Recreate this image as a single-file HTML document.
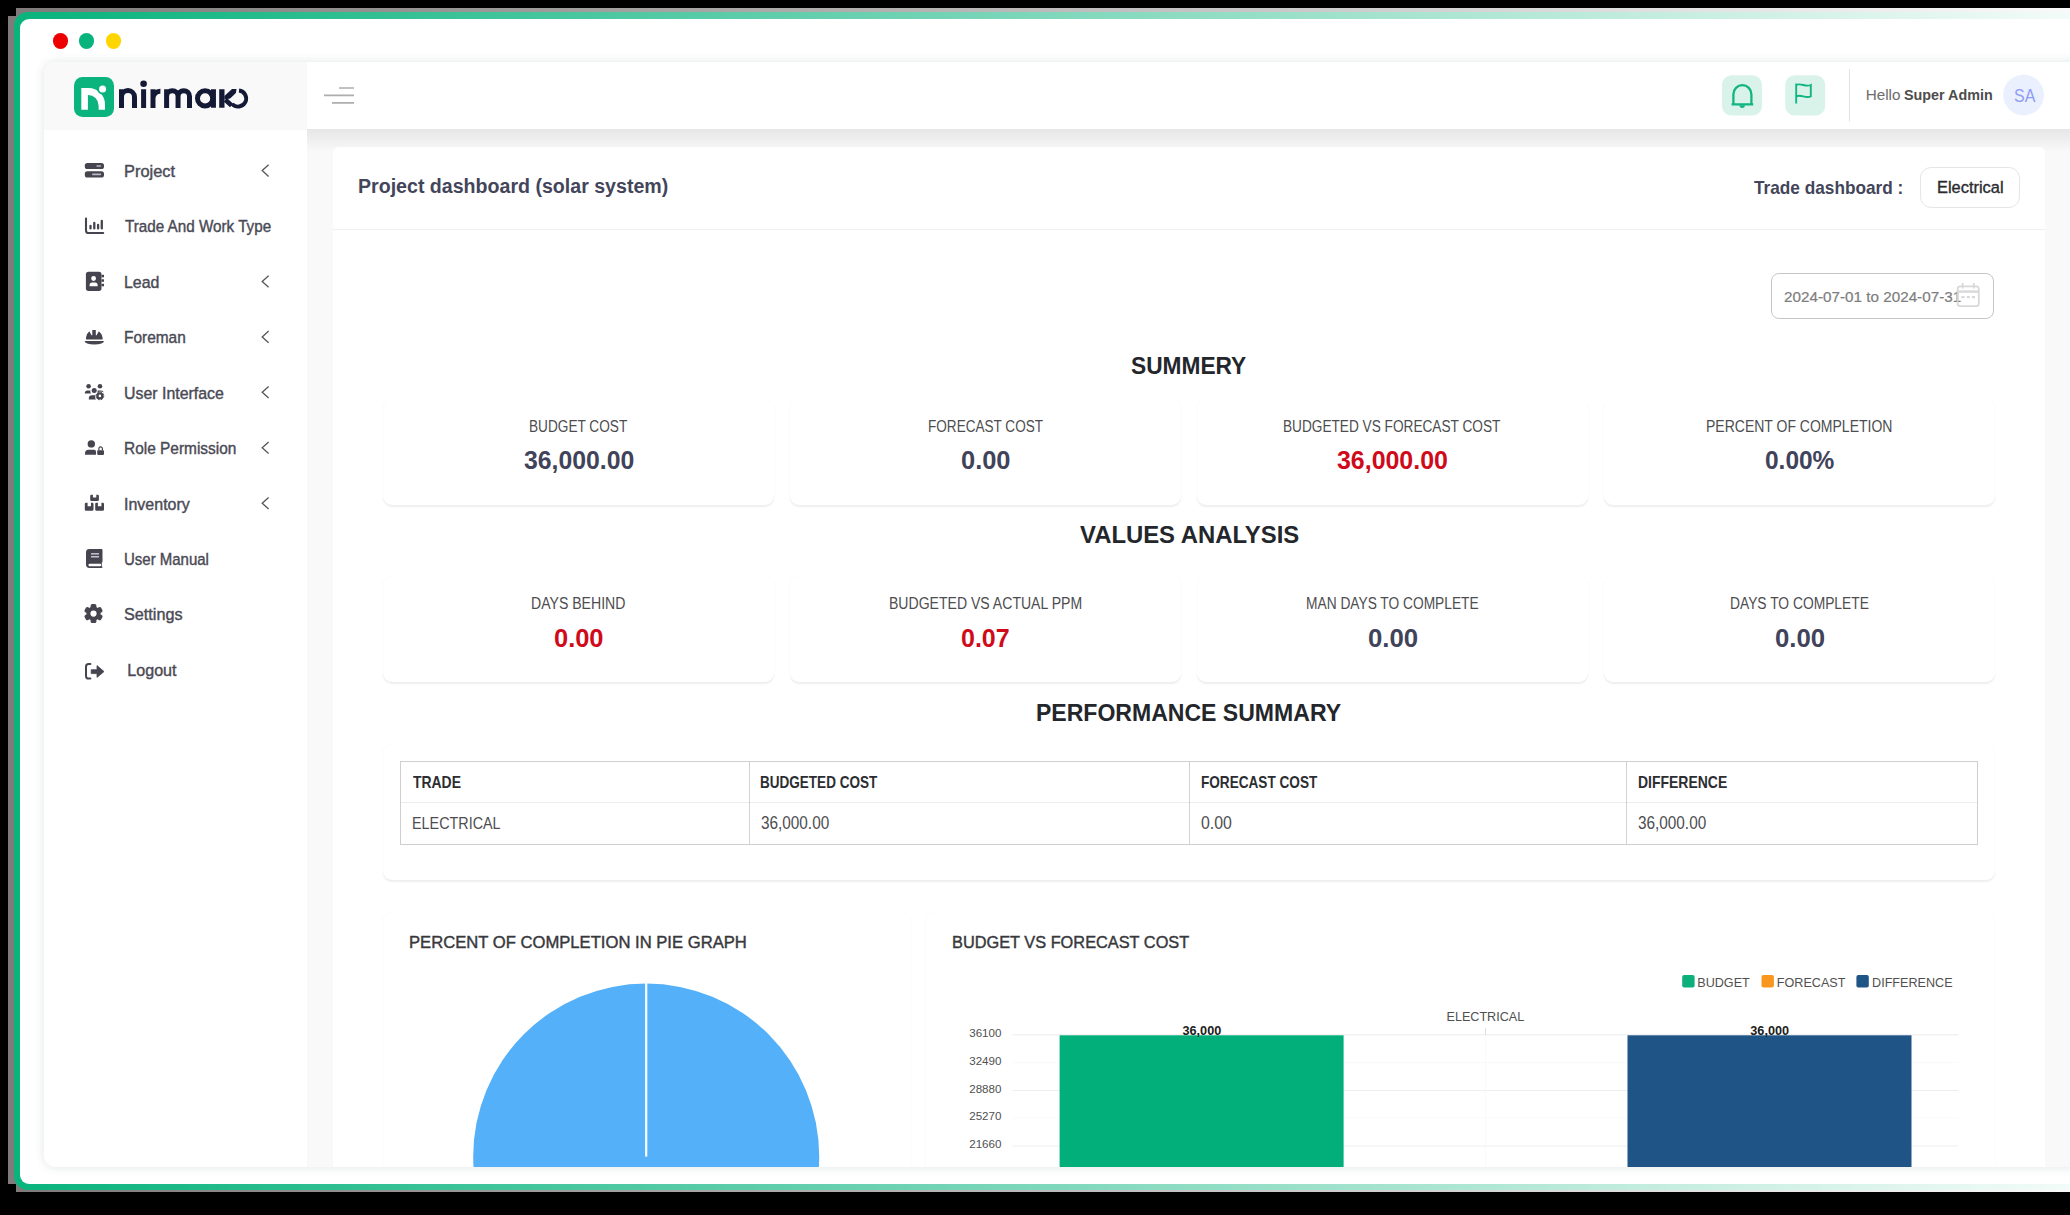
<!DOCTYPE html>
<html lang="en"><head><meta charset="utf-8"><title>Nirmako - Project dashboard</title>
<style>
html,body{margin:0;padding:0}
html{width:2070px;height:1215px;overflow:hidden}
body{width:2070px;height:1215px;background:#000;position:relative;overflow:hidden;font-family:"Liberation Sans",sans-serif}
#stage{position:absolute;left:0;top:0;width:2070px;height:1215px;overflow:hidden;background:#000}
.b{position:absolute;box-sizing:border-box}
.t{position:absolute;white-space:nowrap;line-height:1;transform-origin:0 0;display:block}
svg{position:absolute;overflow:visible}
.card{position:absolute;box-sizing:border-box;background:#fff;border-radius:9px;box-shadow:0 1.5px 2px rgba(0,0,0,.07),0 0 1.5px rgba(0,0,0,.02)}
</style></head><body>
<div id="stage">
<div class="b" style="left:16px;top:8px;width:2054.00px;height:1184.00px;background:linear-gradient(to right,#7f7b7b 0,#fff 2150px)"></div>
<div class="b" style="left:8px;top:16px;width:2062.00px;height:1168.00px;background:linear-gradient(to right,#7f7b7b 0,#fff 2158px)"></div>
<div class="b" style="left:14px;top:12px;width:2086.00px;height:1178.20px;background:linear-gradient(to right,#09b37c 0,#fff 2166px);border-radius:14px"></div>
<div class="b" style="left:19.5px;top:18.5px;width:2080.50px;height:1165.70px;background:#fff;border-radius:9px"></div>
<div class="b" style="left:52.699999999999996px;top:33.4px;width:15.20px;height:15.20px;background:#ec0000;border-radius:50%"></div>
<div class="b" style="left:79.0px;top:33.4px;width:15.20px;height:15.20px;background:#09b37c;border-radius:50%"></div>
<div class="b" style="left:105.80000000000001px;top:33.4px;width:15.20px;height:15.20px;background:#ffd500;border-radius:50%"></div>
<div class="b" style="left:44px;top:62px;width:2060px;height:1104.5px;border-radius:12px 0 0 12px;overflow:hidden;background:#f9f9f9;box-shadow:0 0 10px 1px rgba(20,70,55,.11)"><div class="b" style="left:-44px;top:-62px;width:2070px;height:1215px">
<div class="b" style="left:44px;top:62px;width:263.30px;height:1105.00px;background:#fff"></div>
<div class="b" style="left:44px;top:62px;width:263.30px;height:68.00px;background:#f9f9f9"></div>
<div class="b" style="left:307.3px;top:129px;width:1762.70px;height:23.00px;background:linear-gradient(#e6e6e6,#f9f9f9)"></div>
<div class="b" style="left:307.3px;top:62px;width:1762.70px;height:67.00px;background:#fff"></div>
<div class="b" style="left:332.7px;top:146.5px;width:1712.20px;height:1153.50px;background:#fff;border-radius:6px"></div>
<div class="b" style="left:332.7px;top:229px;width:1712.20px;height:1.00px;background:#f0f0f0"></div>
<svg style="left:0;top:0" width="2070" height="1215" viewBox="0 0 2070 1215">
<rect x="74" y="77" width="40" height="40" rx="8.5" fill="#0bb37d"/>
<path d="M81.3 88 H88.6 A16.4 16.4 0 0 1 105 104.4 V109.8 H98.6 V105.4 A10.5 10.5 0 0 0 88.1 94.9 H87.9 V109.8 H81.3 Z" fill="#fff"/>
<circle cx="102.6" cy="88.9" r="5.6" fill="#0bb37d"/>
<circle cx="102.6" cy="88.9" r="3.5" fill="#fff"/>
<g fill="none" stroke="#141a35" stroke-width="5" stroke-linejoin="round">
<path d="M121.5 107.9 V89.3 M121.5 97.1 A6.5 6.5 0 0 1 134.5 97.1 V107.9"/>
<path d="M143.6 107.9 V89.3"/>
<path d="M153 107.9 V89.3 M153 98.2 A7.2 7.2 0 0 1 160.4 91.2"/>
<path d="M166.6 107.9 V89.3 M166.6 96.4 A5.72 5.72 0 0 1 178.05 96.4 V107.9 M178.05 96.4 A5.72 5.72 0 0 1 189.5 96.4 V107.9"/>
<circle cx="205.1" cy="98.4" r="7.6"/>
<path d="M213.45 89.2 V107.8"/>
<path d="M221.85 89.2 V107.8" stroke-width="5.3"/>
<path d="M225.3 99.7 L231.6 105.5" stroke-width="4.7"/>
<path d="M239.0 90.55 A8.05 8.05 0 1 1 232.2 104.0" stroke-width="3.9"/>
</g>
<path d="M224.4 95.9 L232.0 89.1 H236.5 L235.9 92.9 L230.1 98.6 L224.4 99.5 Z" fill="#141a35"/>
<circle cx="143.6" cy="83.7" r="3.3" fill="#141a35"/>
<!-- hamburger -->
<g stroke="#adadad" stroke-width="1.7">
<path d="M339 88 H354 M324 95.4 H354 M332 102.8 H354"/>
</g>
<!-- bell / flag buttons -->
<rect x="1722" y="75.2" width="40" height="40.3" rx="9.5" fill="#d9f3ea"/>
<rect x="1785.2" y="75.2" width="40" height="40.3" rx="9.5" fill="#d9f3ea"/>
<g fill="none" stroke="#11b581" stroke-width="2.3">
<path d="M1733.4 104.2 V94.2 A9 9 0 0 1 1751.4 94.2 V104.2 M1731.6 104.3 H1753.2"/>
<path d="M1796.2 83.6 V103.6 M1796.2 85 C1801 82.6 1805.5 87.4 1810.8 85 V96.4 C1805.5 98.8 1801 94 1796.2 96.4" stroke-width="1.9"/>
</g>
<path d="M1739.5 105.2 A2.7 2.7 0 0 0 1744.9 105.2 Z" fill="#11b581"/>
<path d="M1849.5 69 V121.5" stroke="#e2e2e2" stroke-width="1"/>
<circle cx="2023.6" cy="95" r="20.4" fill="#eaf0fd"/>
</svg>
<span class="t" style="left:1865.65px;top:87.00px;font-size:15.26px;color:#6c6c6c;">Hello</span>
<span class="t" style="left:1903.89px;top:87.00px;font-size:15.26px;color:#4c4c4c;transform:scaleX(0.9408);font-weight:700;">Super Admin</span>
<span class="t" style="left:2013.62px;top:87.00px;font-size:18.90px;color:#8f9cf4;transform:scaleX(0.8471);">SA</span>
<span class="t" style="left:124.05px;top:163.00px;font-size:16.13px;color:#4a4a55;transform:scaleX(1.0172);-webkit-text-stroke:0.4px #4a4a55;">Project</span>
<span class="t" style="left:125.06px;top:218.00px;font-size:16.13px;color:#4a4a55;transform:scaleX(0.9452);-webkit-text-stroke:0.4px #4a4a55;">Trade And Work Type</span>
<span class="t" style="left:124.09px;top:274.00px;font-size:16.13px;color:#4a4a55;transform:scaleX(0.9875);-webkit-text-stroke:0.4px #4a4a55;">Lead</span>
<span class="t" style="left:124.13px;top:329.00px;font-size:16.13px;color:#4a4a55;transform:scaleX(0.9586);-webkit-text-stroke:0.4px #4a4a55;">Foreman</span>
<span class="t" style="left:124.17px;top:385.00px;font-size:16.13px;color:#4a4a55;transform:scaleX(0.9875);-webkit-text-stroke:0.4px #4a4a55;">User Interface</span>
<span class="t" style="left:124.13px;top:440.00px;font-size:16.13px;color:#4a4a55;transform:scaleX(0.9578);-webkit-text-stroke:0.4px #4a4a55;">Role Permission</span>
<span class="t" style="left:123.92px;top:496.00px;font-size:16.13px;color:#4a4a55;transform:scaleX(0.9934);-webkit-text-stroke:0.4px #4a4a55;">Inventory</span>
<span class="t" style="left:124.24px;top:551.00px;font-size:16.13px;color:#4a4a55;transform:scaleX(0.9302);-webkit-text-stroke:0.4px #4a4a55;">User Manual</span>
<span class="t" style="left:124.36px;top:606.00px;font-size:16.13px;color:#4a4a55;transform:scaleX(1.0058);-webkit-text-stroke:0.4px #4a4a55;">Settings</span>
<span class="t" style="left:127.27px;top:662.00px;font-size:16.13px;color:#4a4a55;-webkit-text-stroke:0.4px #4a4a55;">Logout</span>
<svg style="left:0;top:0" width="2070" height="1215" viewBox="0 0 2070 1215">
<g fill="none" stroke="#55555c" stroke-width="1.3"><path d="M268.6 164.8 L262.2 170.6 L268.6 176.4"/><path d="M268.6 275.7 L262.2 281.5 L268.6 287.3"/><path d="M268.6 331.1 L262.2 336.9 L268.6 342.7"/><path d="M268.6 386.5 L262.2 392.3 L268.6 398.1"/><path d="M268.6 441.9 L262.2 447.8 L268.6 453.5"/><path d="M268.6 497.4 L262.2 503.2 L268.6 509.0"/></g>
<g fill="#46454f">
<!-- project -->
<rect x="84.8" y="163" width="19.2" height="6" rx="2.6"/><rect x="84.8" y="171.2" width="19.2" height="6.3" rx="2.6"/>
<rect x="96.3" y="165.2" width="4.9" height="1.6" rx=".8" fill="#b9b8c6"/><rect x="92" y="173.6" width="9.2" height="1.6" rx=".8" fill="#b9b8c6"/>
<!-- trade -->
<path d="M86 218.6 V230.4 Q86 233 88.6 233 H103.2" fill="none" stroke="#46454f" stroke-width="2.1" stroke-linecap="round"/>
<g fill="none" stroke="#46454f" stroke-width="2.3" stroke-linecap="round"><path d="M90.5 225.8 V228.4 M94.3 223 V228.4 M98.1 225 V228.4 M101.8 220.9 V228.4"/></g>
<!-- lead -->
<rect x="85.9" y="271.8" width="15.6" height="19.1" rx="2.6"/>
<rect x="101.5" y="274.8" width="2.5" height="2.5"/><rect x="101.5" y="279.3" width="2.5" height="2.5"/><rect x="101.5" y="283.8" width="2.5" height="2.5"/>
<circle cx="93.6" cy="278.5" r="2.4" fill="#fff"/><path d="M89.6 286.2 V285 Q89.6 282.4 92.2 282.4 H95 Q97.6 282.4 97.6 285 V286.2 Z" fill="#fff"/>
<!-- foreman -->
<path d="M86 339.6 V337.5 Q86.6 333.4 89.4 331.3 L91.5 335.2 L92.3 335.2 V330 H95.8 V335.2 L96.6 335.2 L98.8 331.3 Q101.8 333.4 102.6 337.5 V339.6 Z"/>
<path d="M84.6 341 H104 Q103.6 344.4 94.3 344.4 Q85 344.4 84.6 341 Z"/>
<!-- user interface -->
<circle cx="88.6" cy="386.3" r="2.3"/><circle cx="100" cy="386.3" r="2.3"/><circle cx="94.2" cy="390.5" r="2.5"/>
<path d="M84.8 393.4 Q84.8 390.4 87.4 390.4 H90.4 Q90 392 91 393.4 Z"/>
<path d="M97.6 390.6 Q98 390.4 99 390.4 H101 Q103.4 390.4 103.7 392.4 Q101 390.6 97.6 392.4 Z"/>
<path d="M88.8 399.5 V398.4 Q88.8 395.2 92 395.2 H95.4 Q94.6 397.6 96 399.5 Z"/>
<circle cx="99.9" cy="395.9" r="3.7"/><circle cx="99.9" cy="395.9" r="3.9" fill="none" stroke="#46454f" stroke-width="0.9" stroke-dasharray="1.7 1.36"/><circle cx="99.9" cy="395.9" r="1.3" fill="#fff"/>
<!-- role permission -->
<circle cx="91.3" cy="443.9" r="3.7"/>
<path d="M85 454.8 V453.4 Q85 449.8 88.6 449.8 H94 Q96 449.8 96 451.4 V454.8 Z"/>
<rect x="97.2" y="450.2" width="6.8" height="4.7" rx=".8"/><path d="M98.9 450.4 V448.6 A1.75 1.75 0 0 1 102.4 448.6 V450.4" fill="none" stroke="#46454f" stroke-width="1.2"/>
<!-- inventory -->
<path d="M91.4 494.8 H92.9 V497.6 H96.3 V494.8 H97.7 Q98.9 494.8 98.9 496 V499.8 Q98.9 501 97.7 501 H91.4 Q90.2 501 90.2 499.8 V496 Q90.2 494.8 91.4 494.8 Z"/>
<path d="M84.8 504.1 Q84.8 502.8 86.1 502.8 H87.6 V506.3 H91 V502.8 H92.2 Q93.5 502.8 93.5 504.1 V509.5 Q93.5 510.8 92.2 510.8 H86.1 Q84.8 510.8 84.8 509.5 Z"/>
<path d="M96.5 502.8 H97.9 V506.3 H101.4 V502.8 H102.7 Q104 502.8 104 504.1 V509.5 Q104 510.8 102.7 510.8 H96.5 Q95.2 510.8 95.2 509.5 V504.1 Q95.2 502.8 96.5 502.8 Z"/>
<!-- user manual -->
<path d="M89.4 549 H101.5 Q102.5 549 102.5 550 V561.6 Q102.5 562.4 101.8 562.6 V566.4 Q102.5 566.6 102.5 567.2 Q102.5 567.9 101.6 567.9 H89.4 Q86 567.9 86 564.5 V552.4 Q86 549 89.4 549 Z"/>
<rect x="88.5" y="563.7" width="12.6" height="2.5" rx="1" fill="#fff"/>
<rect x="91" y="553.1" width="8" height="1.5" fill="#c6c5cf"/><rect x="91" y="556" width="8" height="1.5" fill="#c6c5cf"/>
<!-- settings -->
<g transform="translate(93.5 613.6)"><circle r="7"/>
<g><rect x="-2.9" y="-9.5" width="5.8" height="5.5" rx="1.7" transform="rotate(0)"/><rect x="-2.9" y="-9.5" width="5.8" height="5.5" rx="1.7" transform="rotate(60)"/><rect x="-2.9" y="-9.5" width="5.8" height="5.5" rx="1.7" transform="rotate(120)"/><rect x="-2.9" y="-9.5" width="5.8" height="5.5" rx="1.7" transform="rotate(180)"/><rect x="-2.9" y="-9.5" width="5.8" height="5.5" rx="1.7" transform="rotate(240)"/><rect x="-2.9" y="-9.5" width="5.8" height="5.5" rx="1.7" transform="rotate(300)"/></g>
<circle r="3.1" fill="#fff"/></g>
<!-- logout -->
<path d="M90.4 664.1 H88.6 Q86 664.1 86 666.7 V675.9 Q86 678.5 88.6 678.5 H90.4" fill="none" stroke="#46454f" stroke-width="2" stroke-linecap="round"/>
<path d="M91.2 669.7 H97 V665.6 L104 671.6 L97 677.4 V673.6 H91.2 Z" stroke="#46454f" stroke-width=".8" stroke-linejoin="round"/>
</g></svg>
<span class="t" style="left:358.19px;top:176.00px;font-size:20.93px;color:#43455a;transform:scaleX(0.9363);font-weight:700;">Project dashboard (solar system)</span>
<span class="t" style="left:1753.61px;top:180.00px;font-size:17.88px;color:#43455a;transform:scaleX(0.9643);font-weight:700;">Trade dashboard :</span>
<div class="b" style="left:1920px;top:167px;width:99.60px;height:40.60px;border:1px solid #e6e6e6;border-radius:11px;background:#fff"></div>
<span class="t" style="left:1936.73px;top:180.00px;font-size:16.64px;color:#2a2a2e;transform:scaleX(0.9866);-webkit-text-stroke:0.35px #2a2a2e;">Electrical</span>
<div class="b" style="left:1771px;top:273px;width:223.20px;height:45.60px;border:1px solid #c6c6c6;border-radius:8px;background:#fff"></div>
<span class="t" style="left:1783.83px;top:290.00px;font-size:14.83px;color:#7d7d7d;transform:scaleX(1.0283);-webkit-text-stroke:0.2px #7d7d7d;">2024-07-01 to 2024-07-31</span>
<svg style="left:0;top:0" width="2070" height="1215" viewBox="0 0 2070 1215"><g fill="none" stroke="#d6d6d6" stroke-width="1.8" opacity=".93">
<rect x="1957.6" y="286.4" width="21.2" height="19.8" rx="2.6"/><path d="M1957.6 291.6 H1978.8" stroke-width="2.4"/><path d="M1962.6 283 V288.4 M1973.8 283 V288.4"/>
<path d="M1961.5 297.2 H1964.5 M1966.8 297.2 H1969.8 M1972 297.2 H1975" stroke-width="2.2"/></g></svg>
<span class="t" style="left:1130.95px;top:354.00px;font-size:24.42px;color:#23262b;transform:scaleX(0.9307);font-weight:700;">SUMMERY</span>
<span class="t" style="left:1079.84px;top:523.00px;font-size:24.42px;color:#23262b;transform:scaleX(0.9779);font-weight:700;">VALUES ANALYSIS</span>
<span class="t" style="left:1035.56px;top:701.00px;font-size:24.42px;color:#23262b;transform:scaleX(0.9439);font-weight:700;">PERFORMANCE SUMMARY</span>
<div class="card" style="left:383px;top:398.5px;width:391px;height:106px"></div>
<div class="card" style="left:383px;top:576px;width:391px;height:105.5px"></div>
<span class="t" style="left:529.08px;top:418.00px;font-size:16.42px;color:#4d4d4f;transform:scaleX(0.8312);">BUDGET COST</span>
<span class="t" style="left:523.73px;top:447.00px;font-size:26.45px;color:#41435a;transform:scaleX(0.9373);font-weight:700;">36,000.00</span>
<span class="t" style="left:531.14px;top:595.00px;font-size:16.42px;color:#4d4d4f;transform:scaleX(0.8586);">DAYS BEHIND</span>
<span class="t" style="left:553.89px;top:625.00px;font-size:26.45px;color:#cf0a1b;transform:scaleX(0.9625);font-weight:700;">0.00</span>
<div class="card" style="left:790px;top:398.5px;width:391px;height:106px"></div>
<div class="card" style="left:790px;top:576px;width:391px;height:105.5px"></div>
<span class="t" style="left:927.69px;top:418.00px;font-size:16.42px;color:#4d4d4f;transform:scaleX(0.8266);">FORECAST COST</span>
<span class="t" style="left:960.89px;top:447.00px;font-size:26.45px;color:#41435a;transform:scaleX(0.9625);font-weight:700;">0.00</span>
<span class="t" style="left:889.00px;top:595.00px;font-size:16.42px;color:#4d4d4f;transform:scaleX(0.8566);">BUDGETED VS ACTUAL PPM</span>
<span class="t" style="left:961.36px;top:625.00px;font-size:26.45px;color:#cf0a1b;transform:scaleX(0.9458);font-weight:700;">0.07</span>
<div class="card" style="left:1197px;top:398.5px;width:391px;height:106px"></div>
<div class="card" style="left:1197px;top:576px;width:391px;height:105.5px"></div>
<span class="t" style="left:1283.48px;top:418.00px;font-size:16.42px;color:#4d4d4f;transform:scaleX(0.8317);">BUDGETED VS FORECAST COST</span>
<span class="t" style="left:1337.43px;top:447.00px;font-size:26.45px;color:#cf0a1b;transform:scaleX(0.9424);font-weight:700;">36,000.00</span>
<span class="t" style="left:1305.97px;top:595.00px;font-size:16.42px;color:#4d4d4f;transform:scaleX(0.8381);">MAN DAYS TO COMPLETE</span>
<span class="t" style="left:1367.58px;top:625.00px;font-size:26.45px;color:#41435a;transform:scaleX(0.9747);font-weight:700;">0.00</span>
<div class="card" style="left:1604px;top:398.5px;width:391px;height:106px"></div>
<div class="card" style="left:1604px;top:576px;width:391px;height:105.5px"></div>
<span class="t" style="left:1706.35px;top:418.00px;font-size:16.42px;color:#4d4d4f;transform:scaleX(0.8534);">PERCENT OF COMPLETION</span>
<span class="t" style="left:1764.78px;top:447.00px;font-size:26.45px;color:#41435a;transform:scaleX(0.9255);font-weight:700;">0.00%</span>
<span class="t" style="left:1729.87px;top:595.00px;font-size:16.42px;color:#4d4d4f;transform:scaleX(0.8418);">DAYS TO COMPLETE</span>
<span class="t" style="left:1774.58px;top:625.00px;font-size:26.45px;color:#41435a;transform:scaleX(0.9747);font-weight:700;">0.00</span>
<div class="card" style="left:383px;top:744px;width:1612px;height:135.5px"></div>
<div class="b" style="left:400.3px;top:760.6px;width:1577.70px;height:84.20px;border:1px solid #cfcfcf"></div>
<div class="b" style="left:401px;top:802px;width:1576.00px;height:1.00px;background:#ececec"></div>
<div class="b" style="left:748.7px;top:761px;width:1.00px;height:83.00px;background:#d2d2d2"></div>
<div class="b" style="left:1189.0px;top:761px;width:1.00px;height:83.00px;background:#d2d2d2"></div>
<div class="b" style="left:1626.0px;top:761px;width:1.00px;height:83.00px;background:#d2d2d2"></div>
<span class="t" style="left:413.04px;top:775.00px;font-size:16.72px;color:#2b2d31;transform:scaleX(0.8335);font-weight:700;">TRADE</span>
<span class="t" style="left:412.02px;top:816.00px;font-size:16.72px;color:#4d4d50;transform:scaleX(0.8596);">ELECTRICAL</span>
<span class="t" style="left:760.39px;top:775.00px;font-size:16.72px;color:#2b2d31;transform:scaleX(0.8098);font-weight:700;">BUDGETED COST</span>
<span class="t" style="left:760.72px;top:815.00px;font-size:17.44px;color:#4d4d50;transform:scaleX(0.8788);">36,000.00</span>
<span class="t" style="left:1200.69px;top:775.00px;font-size:16.72px;color:#2b2d31;transform:scaleX(0.8134);font-weight:700;">FORECAST COST</span>
<span class="t" style="left:1200.98px;top:815.00px;font-size:17.44px;color:#4d4d50;transform:scaleX(0.9085);">0.00</span>
<span class="t" style="left:1637.77px;top:775.00px;font-size:16.72px;color:#2b2d31;transform:scaleX(0.8358);font-weight:700;">DIFFERENCE</span>
<span class="t" style="left:1638.12px;top:815.00px;font-size:17.44px;color:#4d4d50;transform:scaleX(0.8788);">36,000.00</span>
<div class="card" style="left:383px;top:911.5px;width:526.5px;height:400px"></div>
<div class="card" style="left:926px;top:911.5px;width:1069px;height:400px"></div>
<span class="t" style="left:408.73px;top:934.00px;font-size:16.28px;color:#37383c;transform:scaleX(1.0222);-webkit-text-stroke:0.4px #37383c;">PERCENT OF COMPLETION IN PIE GRAPH</span>
<span class="t" style="left:951.56px;top:934.00px;font-size:16.28px;color:#37383c;transform:scaleX(1.0043);-webkit-text-stroke:0.4px #37383c;">BUDGET VS FORECAST COST</span>
<svg style="left:0;top:0" width="2070" height="1215" viewBox="0 0 2070 1215">
<circle cx="646.2" cy="1156.6" r="173" fill="#54b0f9"/>
<path d="M646.2 983 V1156.6" stroke="#fff" stroke-width="2.2"/>
<g stroke-width="1" fill="none"><path d="M1012.5 1034.8 H1958.5" stroke="#ebebeb"/><path d="M1012.5 1062.5 H1958.5" stroke="#f9f9f9"/><path d="M1012.5 1090.5 H1958.5" stroke="#eeeeee"/><path d="M1012.5 1118 H1958.5" stroke="#f9f9f9"/><path d="M1012.5 1146 H1958.5" stroke="#eeeeee"/><path d="M1485.5 1035 V1167" stroke="#f9f9f9"/><path d="M1485.5 1028 V1035" stroke="#e0e0e0"/></g>
<rect x="1059.6" y="1035.3" width="284" height="140" fill="#02ae79"/>
<rect x="1627.5" y="1035.3" width="284" height="140" fill="#1f5486"/>
<rect x="1682.2" y="975.1" width="12.4" height="12.4" rx="2" fill="#0bb07b"/>
<rect x="1761.5" y="975.1" width="12.4" height="12.4" rx="2" fill="#f8961e"/>
<rect x="1856.4" y="975.1" width="12.4" height="12.4" rx="2" fill="#1f5486"/>
</svg>
<span class="t" style="left:969.20px;top:1027.00px;font-size:11.60px;color:#505050;">36100</span>
<span class="t" style="left:969.20px;top:1055.00px;font-size:11.60px;color:#505050;">32490</span>
<span class="t" style="left:969.20px;top:1083.00px;font-size:11.60px;color:#505050;">28880</span>
<span class="t" style="left:969.20px;top:1110.00px;font-size:11.60px;color:#505050;">25270</span>
<span class="t" style="left:969.20px;top:1138.00px;font-size:11.60px;color:#505050;">21660</span>
<span class="t" style="left:1182.49px;top:1025.00px;font-size:12.70px;color:#1c1c1c;font-weight:700;">36,000</span>
<span class="t" style="left:1750.29px;top:1025.00px;font-size:12.70px;color:#1c1c1c;font-weight:700;">36,000</span>
<span class="t" style="left:1446.53px;top:1011.00px;font-size:12.60px;color:#505050;">ELECTRICAL</span>
<span class="t" style="left:1697.27px;top:977.00px;font-size:12.60px;color:#505050;">BUDGET</span>
<span class="t" style="left:1776.87px;top:977.00px;font-size:12.60px;color:#505050;">FORECAST</span>
<span class="t" style="left:1872.07px;top:977.00px;font-size:12.60px;color:#505050;">DIFFERENCE</span>
</div></div>
</div>
</body></html>
